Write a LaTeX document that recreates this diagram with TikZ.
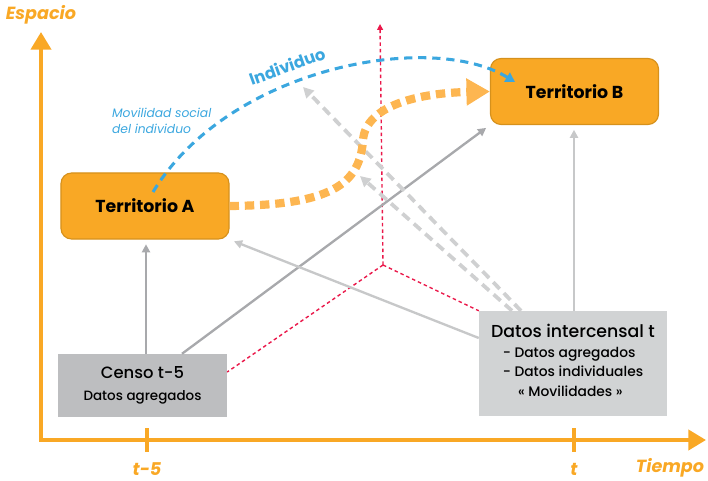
\documentclass[tikz,border=0pt]{standalone}
\usepackage{fontspec}
\setmainfont{Poppins}
\newfontfamily\medio{Poppins Medium}
\usetikzlibrary{arrows.meta}
\definecolor{naranja}{RGB}{249,168,37}
\definecolor{naranjaclaro}{RGB}{253,182,81}
\definecolor{bordeterr}{RGB}{214,145,28}
\definecolor{azul}{RGB}{59,167,223}
\definecolor{rojo}{RGB}{234,24,74}
\definecolor{grisoscuro}{RGB}{168,169,172}
\definecolor{grisclaro}{RGB}{199,200,201}
\definecolor{grisfondo}{RGB}{189,190,192}
\definecolor{grisfondoclaro}{RGB}{209,211,212}

\begin{document}
\begin{tikzpicture}[x=0.03cm,y=-0.03cm,
  territorio/.style={draw=bordeterr,line width=1pt,fill=naranja,rounded corners=9pt,
    minimum width=5.04cm,minimum height=1.98cm,font=\bfseries\fontsize{14.8}{16}\selectfont},
  fuente/.style={fill=#1,minimum width=5.07cm,minimum height=1.89cm,inner sep=0pt},
  eje/.style={draw=naranja,line width=3.4pt,{Triangle[length=15pt,width=17pt]}-{Triangle[length=15pt,width=17pt]}},
  marca/.style={draw=naranja,line width=3.4pt},
  etiqueta/.style={text=naranja,font=\itshape\bfseries\fontsize{15}{16}\selectfont},
  flecha/.style={-{Triangle[length=7pt,width=7pt]},line width=2pt,shorten >=4pt},
  flechapunteada/.style={-{Triangle[length=9pt,width=9pt]},line width=3.2pt,draw=grisclaro!85,dash pattern=on 8pt off 5pt},
  rojopunteado/.style={draw=rojo,line width=1.2pt,dash pattern=on 3pt off 2.5pt},
 ]
\useasboundingbox (0,0) rectangle (708,480);

% ejes
\coordinate (origen) at (41,440);
\coordinate (arriba) at (41,32);
\coordinate (derecha) at (706,440);
\draw[eje] (arriba) -- (origen) -- (derecha);
\draw[marca] (147,428) -- (147,452);
\draw[marca] (574,428) -- (574,452);
\node[etiqueta] (espacio) at (41,15) {Espacio};
\node[etiqueta] (tcinco) at (147,469) {t-5};
\node[etiqueta] (t) at (574,469) {t};
\node[etiqueta] (tiempo) at (670,468) {Tiempo};

% cajas
\node[territorio] (terrA) at (145,206) {Territorio A};
\node[territorio] (terrB) at (574.5,91.5) {Territorio B};
\node[fuente=grisfondo,font=\medio\fontsize{14}{16}\selectfont,align=center] (censo) at (142.5,385.5)
  {Censo t-5\\[3pt]{\fontsize{11.5}{13}\selectfont Datos agregados}};
\node[fuente=grisfondoclaro,minimum width=5.64cm,minimum height=3.15cm,align=center,font=\medio] (datos) at (573,363.5)
  {{\fontsize{14.8}{16}\selectfont Datos intercensal t}\\[3pt]
   \fontsize{11.8}{18.5}\selectfont
   \begin{tabular}{@{}l@{}}- Datos agregados\\[-1.5pt] - Datos individuales\\[-1.5pt] \hspace{1.1em}« Movilidades »\end{tabular}};

% ejes rojos
\coordinate (rojo0) at (383,265);
\coordinate (rojoarriba) at (380,24);
\draw[rojopunteado,-{Triangle[length=5pt,width=5pt]}] (rojo0) -- (rojoarriba);
\draw[rojopunteado] (rojo0) -- (censo.east |- 0,372);
\draw[rojopunteado] (rojo0) -- (datos.north west);

% flechas grises
\draw[flecha,draw=grisoscuro] (censo.north -| 146,0) -- (terrA.south -| 146,0);
\draw[flecha,draw=grisoscuro] (censo.north -| 182,0) -- (terrB.south west);
\draw[flecha,draw=grisclaro] (datos.west |- 0,338) -- (terrA.south east);
\draw[flecha,draw=grisclaro] (datos.north -| 574,0) -- (terrB.south -| 574,0);
\coordinate (fin1) at (303,87);
\coordinate (fin2) at (360,176);
\draw[flechapunteada] (datos.north -| 521,0) -- (fin1);
\draw[flechapunteada] (datos.north -| 512,0) -- (fin2);

% trayectorias
\coordinate (quiebre) at (363,140);
\draw[draw=naranjaclaro,line width=7pt,dash pattern=on 8pt off 5pt,-{Triangle[length=20pt,width=22pt]}]
  (terrA.east) .. controls (330,205) and (360,185) .. (quiebre)
  .. controls (366,105) and (420,93) .. (terrB.west);
\coordinate (inicioazul) at (153,192);
\coordinate (finazul) at (515,82);
\draw[draw=azul,line width=2.6pt,dash pattern=on 7pt off 5pt,-{Triangle[length=8pt,width=9pt]}]
  (inicioazul) .. controls (228,68) and (430,30) .. (finazul);
\node[text=azul,font=\bfseries\fontsize{14}{16}\selectfont,rotate=20] (individuo) at (287,66) {Individuo};
\node[text=azul,font=\itshape\fontsize{10.5}{14}\selectfont,align=left,anchor=north west] (movilidad) at (108,104)
  {Movilidad social\\del individuo};
\end{tikzpicture}
\end{document}
